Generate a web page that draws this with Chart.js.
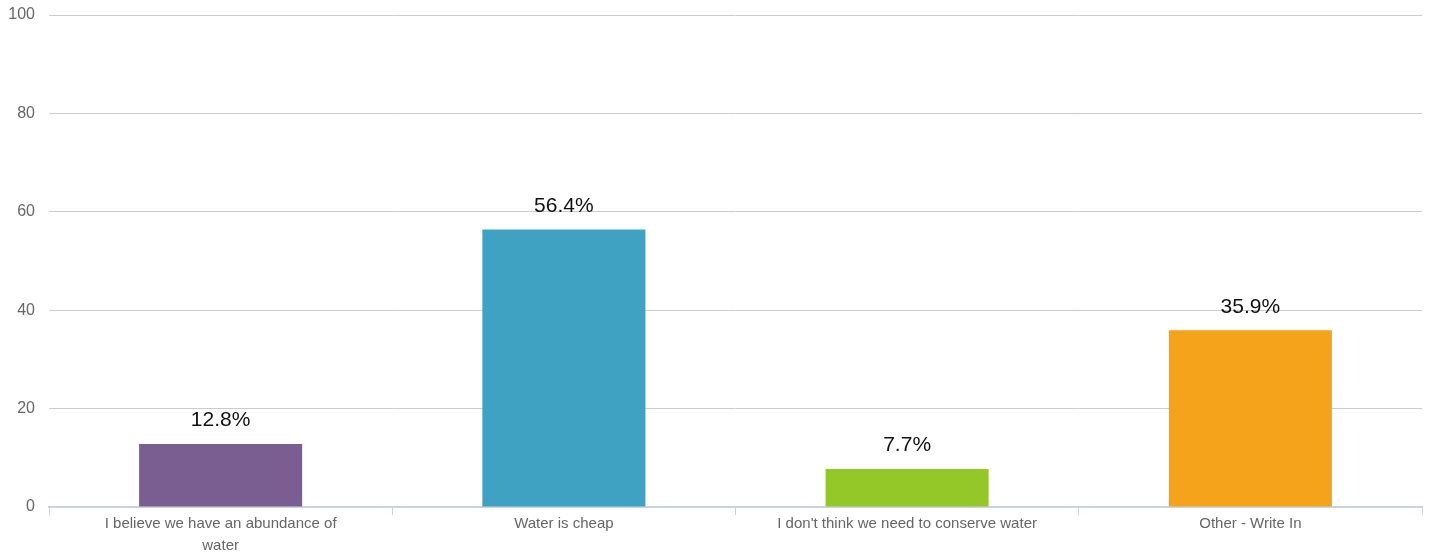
<!DOCTYPE html>
<html>
<head>
<meta charset="utf-8">
<script src="https://cdn.jsdelivr.net/npm/chart.js@4"></script>
<style>
  html, body { margin: 0; padding: 0; background: #fff; }
  #wrap { width: 1432px; height: 559px; }
</style>
</head>
<body>
<div id="wrap"><canvas id="mycanvas"></canvas></div>
<script>
var categories = [
  ["I believe we have an abundance of", "water"],
  "Water is cheap",
  "I don't think we need to conserve water",
  "Other - Write In"
];
var values = [12.8, 56.4, 7.7, 35.9];
var barColors = ["#7b5e91", "#40a2c2", "#94c828", "#f4a31a"];
var yTicks = [0, 20, 40, 60, 80, 100];

// writes the percentage above each bar
var valueLabels = {
  id: "valueLabels",
  afterDatasetsDraw: function (chart) {
    var ctx = chart.ctx;
    var meta = chart.getDatasetMeta(0);
    ctx.save();
    ctx.font = "21px 'Liberation Sans', Arial, sans-serif";
    ctx.fillStyle = "#111";
    ctx.textAlign = "center";
    ctx.textBaseline = "bottom";
    meta.data.forEach(function (bar, i) {
      ctx.fillText(values[i].toFixed(1) + "%", bar.x, bar.y - 13);
    });
    ctx.restore();
  }
};

var ctx = document.getElementById("mycanvas");
var chart = new Chart(ctx, {
  type: "bar",
  data: {
    labels: categories,
    datasets: [{
      data: values,
      backgroundColor: barColors,
      borderWidth: 0,
      barPercentage: 0.475,
      categoryPercentage: 1
    }]
  },
  options: {
    responsive: true,
    maintainAspectRatio: false,
    animation: false,
    layout: { padding: { top: 15, right: 10, left: 0, bottom: 0 } },
    plugins: {
      legend: { display: false },
      tooltip: { enabled: false }
    },
    scales: {
      x: {
        grid: {
          offset: true,
          drawOnChartArea: false,
          color: "#c8d4e0",
          tickLength: 8
        },
        border: { color: "#c8d4e0", width: 2 },
        ticks: {
          color: "#666",
          font: { family: "'Liberation Sans', Arial, sans-serif", size: 15, lineHeight: 1.45 },
          padding: -2,
          maxRotation: 0,
          autoSkip: false
        },
        afterFit: function (scale) { scale.height = 52; }
      },
      y: {
        min: 0,
        max: 100,
        afterBuildTicks: function (scale) {
          scale.ticks = yTicks.map(function (v) { return { value: v }; });
        },
        grid: { color: "#cccccc", drawTicks: false, lineWidth: 1 },
        border: { display: false },
        ticks: {
          color: "#666",
          font: { family: "'Liberation Sans', Arial, sans-serif", size: 16 },
          padding: 14
        },
        afterFit: function (scale) {
          scale.width = 49;
          scale.paddingTop = 0;
          scale.paddingBottom = 0;
        }
      }
    }
  },
  plugins: [valueLabels]
});
</script>
</body>
</html>
